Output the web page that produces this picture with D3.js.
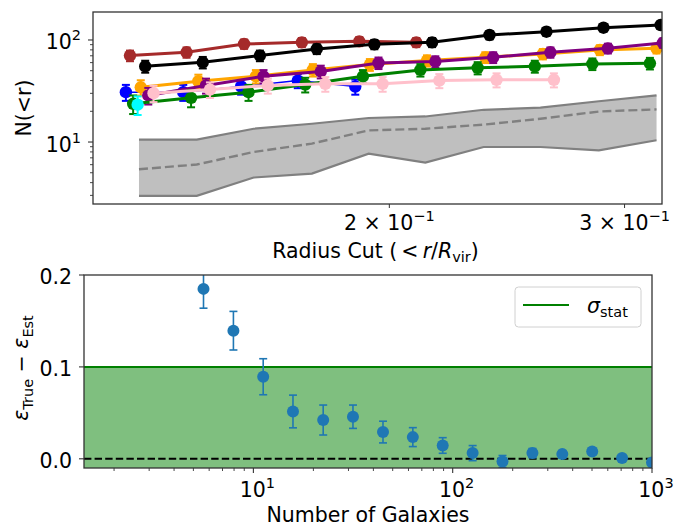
<!DOCTYPE html>
<html><head><meta charset="utf-8">
<script src="https://cdn.jsdelivr.net/npm/d3@7"></script>
<style>
body{margin:0;background:#fff}
text{font-family:"DejaVu Sans",sans-serif;fill:#000}
</style>
</head><body>
<svg id="c" width="676" height="529"></svg>
<script>
// ---------- top panel data: N(<r) vs radius cut ----------
const brownR   = [0.1279,0.1410,0.1557,0.1720,0.1899,0.2095];
const brownN   = [70.3,75.7,91.4,94.8,96.9,94.8];
const brownErr = [8.4,8.7,9.6,9.7,9.8,9.7];

const blackR   = [0.1313,0.1450,0.1600,0.1765,0.1949,0.2153,0.2377,0.2622,0.2893,0.3192];
const blackN   = [55.2,60.4,70.3,81.7,90.6,94.8,111.9,120.5,131.9,140.1];
const blackErr = [7.4,7.8,8.4,9.0,9.5,9.7,10.6,11.0,11.5,11.8];

const blueR    = [0.1270,0.1402,0.1549,0.1708,0.1886];
const blueN    = [30.8,30.8,35.0,40.0,35.0];
const blueErr  = [5.5,5.5,5.9,6.3,5.9];

const orangeR  = [0.1303,0.1439,0.1589,0.1753,0.1934,0.2134,0.2360,0.2606,0.2875,0.3170];
const orangeN  = [34.4,39.4,44.1,50.9,57.4,62.8,67.6,73.0,79.9,82.8];
const orangeErr= [5.9,6.3,6.6,7.1,7.6,7.9,8.2,8.5,8.9,9.1];

const purpleR  = [0.1320,0.1458,0.1610,0.1777,0.1963,0.2165,0.2392,0.2640,0.2915,0.3205];
const purpleN  = [28.6,35.8,44.1,49.0,59.6,61.4,67.6,75.7,82.8,93.5];
const purpleErr= [5.3,6.0,6.6,7.0,7.7,7.8,8.2,8.7,9.1,9.7];

const greenR   = [0.1286,0.1421,0.1569,0.1730,0.1911,0.2110,0.2329,0.2570,0.2838,0.3134];
const greenN   = [23.7,27.1,30.8,36.6,44.1,50.9,53.3,55.2,58.3,59.1];
const greenErr = [4.9,5.2,5.5,6.0,6.6,7.1,7.3,7.4,7.6,7.7];

const cyanR    = [0.1296];
const cyanN    = [23.2];
const cyanErr  = [4.8];

const pinkR    = [0.1332,0.1468,0.1622,0.1791,0.1977,0.2180,0.2406,0.2656];
const pinkN    = [30.1,32.7,35.8,37.2,37.2,40.0,40.7,40.7];
const pinkErr  = [5.5,5.7,6.0,6.1,6.1,6.3,6.4,6.4];

// gray band (expected range) and its median
const bandR    = [0.1299,0.1435,0.1583,0.1750,0.1930,0.2128,0.2353,0.2595,0.2870,0.3170];
const bandHigh = [10.55,10.55,13.5,15.1,17.2,17.8,20.7,21.7,25.1,28.6];
const bandLow  = [2.97,2.97,4.49,4.91,7.70,6.29,8.94,8.94,8.30,10.4];
const bandMid  = [5.41,6.02,7.99,9.65,13.0,13.5,14.8,16.9,19.9,20.9];

// ---------- bottom panel data ----------
const galaxyCounts = [5.62,7.94,11.2,15.8,22.4,31.6,44.7,63.1,89.1,125.9,177.8,251.2,354.8,501.2,707.9,1000];
const epsDiff = [0.1849,0.1394,0.0893,0.0515,0.0422,0.0458,0.0291,0.0236,0.0145,0.0062,-0.0029,0.0062,0.0051,0.0080,0.0008,-0.0040];
const epsErr  = [0.021,0.021,0.0196,0.0178,0.0163,0.0127,0.0118,0.0103,0.0085,0.0082,0.0065,0.005,0.004,0.004,0.003,0.003];
const sigmaStat = 0.1;

// tick definitions
const topYMajor = [10,100];
const topYMinor = [3,4,5,6,7,8,9,20,30,40,50,60,70,80,90];
const topXTicks = [0.2,0.3];
const topXTickLabels = [["2 × 10","−1"],["3 × 10","−1"]];
const botXMajor = [10,100,1000];
const botXMinor = [2,3,4,5,6,7,8,9,20,30,40,50,60,70,80,90,200,300,400,500,600,700,800,900];
const botYTicks = [0.0,0.1,0.2];

// ---------- drawing ----------
const svg = d3.select("#c");
const FS = 20.5, FSS = 14.5;
const spine = "#333";

const T = {l:93,r:662,t:12,b:204};
const B = {l:84,r:652,t:275,b:468};

const tx = d3.scaleLog().domain([0.12,0.32]).range([T.l,T.r]);
const ty = d3.scaleLog().domain([2.47,188]).range([T.b,T.t]);
const bx = d3.scaleLog().domain([1.413,1000]).range([B.l,B.r]);
const by = d3.scaleLinear().domain([-0.01,0.2]).range([B.b,B.t]);

const defs = svg.append("defs");
defs.append("clipPath").attr("id","clipT").append("rect")
  .attr("x",T.l).attr("y",T.t).attr("width",T.r-T.l).attr("height",T.b-T.t);
defs.append("clipPath").attr("id","clipB").append("rect")
  .attr("x",B.l).attr("y",B.t).attr("width",B.r-B.l).attr("height",B.b-B.t);

// ===== TOP PANEL =====
const gT = svg.append("g").attr("clip-path","url(#clipT)");
const band = bandR.map((r,i)=>({r, lo:bandLow[i], hi:bandHigh[i], mid:bandMid[i]}));
gT.append("path").datum(band)
  .attr("d", d3.area().x(d=>tx(d.r)).y0(d=>ty(d.lo)).y1(d=>ty(d.hi)))
  .attr("fill","#bfbfbf").attr("stroke","none");
gT.append("path").datum(band).attr("d", d3.line().x(d=>tx(d.r)).y(d=>ty(d.hi)))
  .attr("fill","none").attr("stroke","#808080").attr("stroke-width",2.2);
gT.append("path").datum(band).attr("d", d3.line().x(d=>tx(d.r)).y(d=>ty(d.lo)))
  .attr("fill","none").attr("stroke","#808080").attr("stroke-width",2.2);
gT.append("path").datum(band).attr("d", d3.line().x(d=>tx(d.r)).y(d=>ty(d.mid)))
  .attr("fill","none").attr("stroke","#808080").attr("stroke-width",2.4)
  .attr("stroke-dasharray","9,4");

const series = [
  {r:brownR, n:brownN, e:brownErr, color:"#a52a2a", lw:3},
  {r:blackR, n:blackN, e:blackErr, color:"#000000", lw:3},
  {r:blueR, n:blueN, e:blueErr, color:"#0000ff", lw:1.5},
  {r:orangeR, n:orangeN, e:orangeErr, color:"#ffa500", lw:3},
  {r:purpleR, n:purpleN, e:purpleErr, color:"#800080", lw:3},
  {r:greenR, n:greenN, e:greenErr, color:"#008000", lw:3},
  {r:cyanR, n:cyanN, e:cyanErr, color:"#00ffff", lw:3},
  {r:pinkR, n:pinkN, e:pinkErr, color:"#ffc0cb", lw:3}
];
series.forEach(s=>{
  const pts = s.r.map((r,i)=>({r, n:s.n[i], e:s.e[i]}));
  const g = gT.append("g");
  g.append("path").datum(pts)
    .attr("d", d3.line().x(d=>tx(d.r)).y(d=>ty(d.n)))
    .attr("fill","none").attr("stroke",s.color).attr("stroke-width",s.lw);
  const eb = g.selectAll(".eb").data(pts).join("g");
  eb.append("line").attr("x1",d=>tx(d.r)).attr("x2",d=>tx(d.r))
    .attr("y1",d=>ty(d.n-d.e)).attr("y2",d=>ty(d.n+d.e))
    .attr("stroke",s.color).attr("stroke-width",2);
  [d=>ty(d.n-d.e), d=>ty(d.n+d.e)].forEach(f=>{
    eb.append("line").attr("x1",d=>tx(d.r)-4).attr("x2",d=>tx(d.r)+4)
      .attr("y1",f).attr("y2",f).attr("stroke",s.color).attr("stroke-width",2);
  });
  g.selectAll("circle").data(pts).join("circle")
    .attr("cx",d=>tx(d.r)).attr("cy",d=>ty(d.n)).attr("r",6.2)
    .attr("fill",s.color);
});

// top spines
svg.append("rect").attr("x",T.l).attr("y",T.t).attr("width",T.r-T.l).attr("height",T.b-T.t)
  .attr("fill","none").attr("stroke",spine).attr("stroke-width",1.3);

// top y ticks
topYMajor.forEach(v=>{
  svg.append("line").attr("x1",T.l-5).attr("x2",T.l).attr("y1",ty(v)).attr("y2",ty(v))
    .attr("stroke",spine).attr("stroke-width",1.1);
  const t = svg.append("text").attr("x",T.l-12).attr("y",ty(v)+9.5)
    .attr("text-anchor","end").attr("font-size",FS);
  t.append("tspan").text("10");
  t.append("tspan").attr("dy",-9).attr("font-size",FSS).text(String(Math.round(Math.log10(v))));
});
topYMinor.forEach(v=>{
  svg.append("line").attr("x1",T.l-3).attr("x2",T.l).attr("y1",ty(v)).attr("y2",ty(v))
    .attr("stroke",spine).attr("stroke-width",0.9);
});
// top x ticks
topXTicks.forEach((v,i)=>{
  svg.append("line").attr("x1",tx(v)).attr("x2",tx(v)).attr("y1",T.b).attr("y2",T.b+4)
    .attr("stroke",spine).attr("stroke-width",1);
  const t = svg.append("text").attr("x",tx(v)).attr("y",230)
    .attr("text-anchor","middle").attr("font-size",FS);
  t.append("tspan").text(topXTickLabels[i][0]);
  t.append("tspan").attr("dy",-9).attr("font-size",FSS).text(topXTickLabels[i][1]);
});
// top labels
{
  const t = svg.append("text").attr("x",(T.l+T.r)/2 - 2).attr("y",258)
    .attr("text-anchor","middle").attr("font-size",FS);
  t.append("tspan").text("Radius Cut (\u2009<\u2009");
  t.append("tspan").attr("font-style","italic").text("r");
  t.append("tspan").text("/");
  t.append("tspan").attr("font-style","italic").text("R");
  t.append("tspan").attr("dy",4).attr("font-size",FSS).text("vir");
  t.append("tspan").attr("dy",-4).text(")");
}
svg.append("text").attr("transform",`translate(31,${(T.t+T.b)/2}) rotate(-90)`)
  .attr("text-anchor","middle").attr("font-size",FS).text("N(<r)");

// ===== BOTTOM PANEL =====
const gB = svg.append("g").attr("clip-path","url(#clipB)");
gB.append("rect").attr("x",B.l).attr("width",B.r-B.l)
  .attr("y",by(sigmaStat)).attr("height",by(-0.01)-by(sigmaStat))
  .attr("fill","#008000").attr("fill-opacity",0.5);
gB.append("line").attr("x1",B.l).attr("x2",B.r).attr("y1",by(sigmaStat)).attr("y2",by(sigmaStat))
  .attr("stroke","#008000").attr("stroke-width",2);
gB.append("line").attr("x1",B.l).attr("x2",B.r).attr("y1",by(0)).attr("y2",by(0))
  .attr("stroke","#000").attr("stroke-width",2).attr("stroke-dasharray","7.4,3.2");

const bp = galaxyCounts.map((n,i)=>({n, v:epsDiff[i], e:epsErr[i]}));
const c1 = "#1f77b4";
const beb = gB.selectAll(".beb").data(bp).join("g");
beb.append("line").attr("x1",d=>bx(d.n)).attr("x2",d=>bx(d.n))
  .attr("y1",d=>by(d.v-d.e)).attr("y2",d=>by(d.v+d.e))
  .attr("stroke",c1).attr("stroke-width",1.6);
[d=>by(d.v-d.e), d=>by(d.v+d.e)].forEach(f=>{
  beb.append("line").attr("x1",d=>bx(d.n)-4).attr("x2",d=>bx(d.n)+4)
    .attr("y1",f).attr("y2",f).attr("stroke",c1).attr("stroke-width",1.6);
});
gB.selectAll("circle").data(bp).join("circle")
  .attr("cx",d=>bx(d.n)).attr("cy",d=>by(d.v)).attr("r",6).attr("fill",c1);

svg.append("rect").attr("x",B.l).attr("y",B.t).attr("width",B.r-B.l).attr("height",B.b-B.t)
  .attr("fill","none").attr("stroke",spine).attr("stroke-width",1.3);

// bottom y ticks
botYTicks.forEach(v=>{
  svg.append("line").attr("x1",B.l-5).attr("x2",B.l).attr("y1",by(v)).attr("y2",by(v))
    .attr("stroke",spine).attr("stroke-width",1.1);
  svg.append("text").attr("x",B.l-12).attr("y",by(v)+9).attr("text-anchor","end")
    .attr("font-size",FS).text(v.toFixed(1));
});
// bottom x ticks
botXMajor.forEach(v=>{
  svg.append("line").attr("x1",bx(v)).attr("x2",bx(v)).attr("y1",B.b).attr("y2",B.b+5)
    .attr("stroke",spine).attr("stroke-width",1.1);
  const t = svg.append("text").attr("x",bx(v)+4).attr("y",497)
    .attr("text-anchor","middle").attr("font-size",FS);
  t.append("tspan").text("10");
  t.append("tspan").attr("dy",-9).attr("font-size",FSS).text(String(Math.round(Math.log10(v))));
});
botXMinor.forEach(v=>{
  svg.append("line").attr("x1",bx(v)).attr("x2",bx(v)).attr("y1",B.b).attr("y2",B.b+3)
    .attr("stroke",spine).attr("stroke-width",0.9);
});
svg.append("text").attr("x",(B.l+B.r)/2).attr("y",522).attr("text-anchor","middle")
  .attr("font-size",FS).text("Number of Galaxies");
{
  const t = svg.append("text").attr("transform",`translate(28,368) rotate(-90)`)
    .attr("text-anchor","middle").attr("font-size",FS);
  t.append("tspan").attr("font-style","italic").text("ε");
  t.append("tspan").attr("dy",5).attr("font-size",FSS).text("True");
  t.append("tspan").attr("dy",-5).text(" − ");
  t.append("tspan").attr("font-style","italic").text("ε");
  t.append("tspan").attr("dy",5).attr("font-size",FSS).text("Est");
}
// legend
svg.append("rect").attr("x",515).attr("y",287).attr("width",126).attr("height",40).attr("rx",3.5)
  .attr("fill","#fff").attr("fill-opacity",0.8).attr("stroke","#d0d0d0").attr("stroke-width",1);
svg.append("line").attr("x1",523).attr("x2",569).attr("y1",305).attr("y2",305)
  .attr("stroke","#008000").attr("stroke-width",2);
{
  const t = svg.append("text").attr("x",587).attr("y",313).attr("font-size",FS);
  t.append("tspan").attr("font-style","italic").text("σ");
  t.append("tspan").attr("dy",4).attr("font-size",FSS).text("stat");
}
</script>
</body></html>
